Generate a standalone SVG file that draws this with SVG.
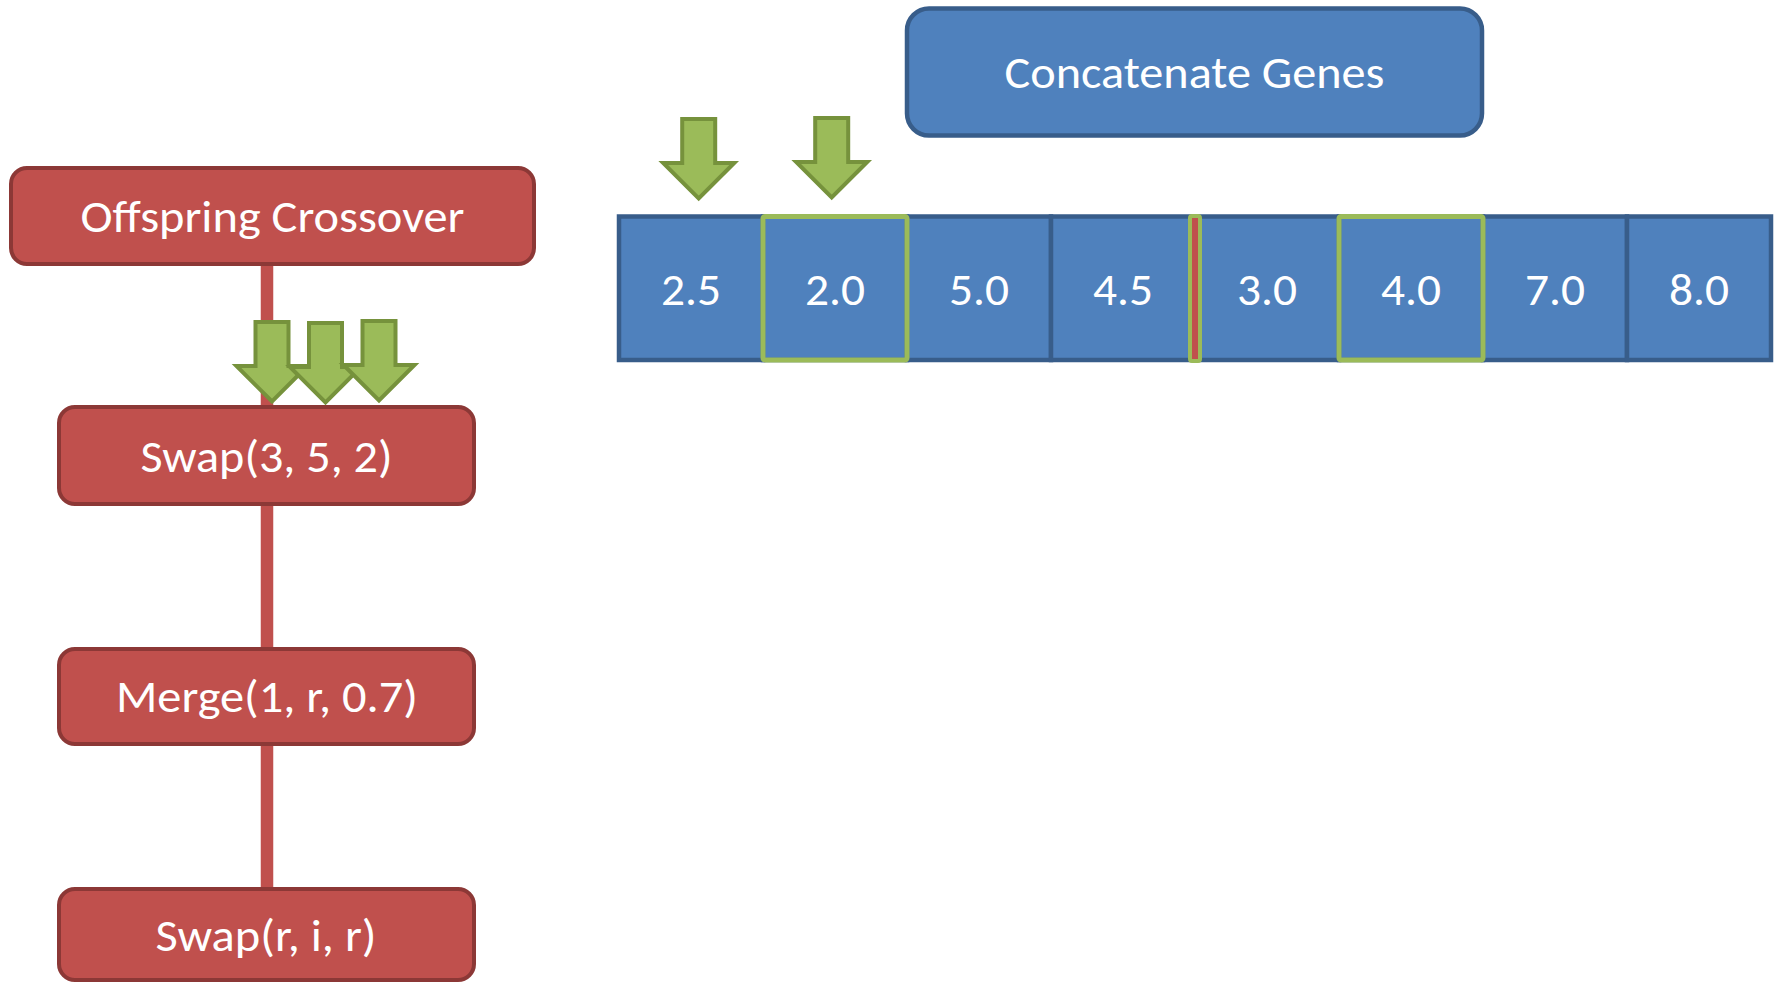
<svg xmlns="http://www.w3.org/2000/svg" xmlns:xlink="http://www.w3.org/1999/xlink" width="1775" height="983" viewBox="0 0 1775 983">
  <style>
    .op rect { fill: #C0504D; stroke: #8C3836; stroke-width: 4; }
    .blue rect { fill: #4F81BD; stroke: #385D8A; stroke-width: 4.5; }
    .cell { fill: #4F81BD; stroke: #385D8A; stroke-width: 4.5; }
    .sel { fill: none; stroke: #9BBB59; stroke-width: 5; }
    .cut { fill: #C0504D; stroke: #9BBB59; stroke-width: 4; }
    .lbl { font-family: "Carlito", "Lato", "Open Sans", sans-serif; font-size: 45px; fill: #FFFFFF; text-anchor: middle; }
    .num { font-size: 46px; }
    .link { stroke: #C0504D; stroke-width: 12.5; fill: none; }
    .ptr { fill: #9BBB59; stroke: #76923C; stroke-width: 4; stroke-linejoin: miter; }
  </style>
  <defs>
    <!-- block arrow pointing down, origin at top centre -->
    <path id="downArrow" d="M -16.5 2 L 16.5 2 L 16.5 46 L 35.5 46 L 0 81.5 L -35.5 46 L -16.5 46 Z"/>
  </defs>

  <rect width="1775" height="983" fill="#FFFFFF"/>

  <!-- vertical links between operator boxes -->
  <g id="connectors">
    <line class="link" x1="267" y1="260" x2="267" y2="410"/>
    <line class="link" x1="267" y1="502" x2="267" y2="651"/>
    <line class="link" x1="267" y1="742" x2="267" y2="891"/>
  </g>

  <!-- operator chain -->
  <g id="offspring-crossover" class="op">
    <rect x="11" y="168" width="523" height="96" rx="16"/>
    <text class="lbl" x="272.5" y="232" textLength="384" lengthAdjust="spacingAndGlyphs">Offspring Crossover</text>
  </g>
  <g id="swap-3-5-2" class="op">
    <rect x="59" y="407" width="415" height="97" rx="16"/>
    <text class="lbl" x="266.5" y="472" textLength="252" lengthAdjust="spacingAndGlyphs">Swap(3, 5, 2)</text>
  </g>
  <g id="merge-1-r-07" class="op">
    <rect x="59" y="649" width="415" height="95" rx="16"/>
    <text class="lbl" x="267" y="712" textLength="302" lengthAdjust="spacingAndGlyphs">Merge(1, r, 0.7)</text>
  </g>
  <g id="swap-r-i-r" class="op">
    <rect x="59" y="889" width="415" height="91" rx="16"/>
    <text class="lbl" x="266" y="951" textLength="221" lengthAdjust="spacingAndGlyphs">Swap(r, i, r)</text>
  </g>

  <!-- concatenation step -->
  <g id="concatenate-genes" class="blue">
    <rect x="907" y="8.5" width="575" height="127" rx="22"/>
    <text class="lbl" x="1194.5" y="88" textLength="380" lengthAdjust="spacingAndGlyphs">Concatenate Genes</text>
  </g>

  <!-- gene array -->
  <g id="genes">
    <g id="gene-1"><rect class="cell" x="619" y="216.5" width="144" height="143.5"/><text class="lbl num" x="691" y="305" textLength="60" lengthAdjust="spacingAndGlyphs">2.5</text></g>
    <g id="gene-2"><rect class="cell" x="763" y="216.5" width="144" height="143.5"/><text class="lbl num" x="835" y="305" textLength="60" lengthAdjust="spacingAndGlyphs">2.0</text></g>
    <g id="gene-3"><rect class="cell" x="907" y="216.5" width="144" height="143.5"/><text class="lbl num" x="979" y="305" textLength="60" lengthAdjust="spacingAndGlyphs">5.0</text></g>
    <g id="gene-4"><rect class="cell" x="1051" y="216.5" width="144" height="143.5"/><text class="lbl num" x="1123" y="305" textLength="60" lengthAdjust="spacingAndGlyphs">4.5</text></g>
    <g id="gene-5"><rect class="cell" x="1195" y="216.5" width="144" height="143.5"/><text class="lbl num" x="1267" y="305" textLength="60" lengthAdjust="spacingAndGlyphs">3.0</text></g>
    <g id="gene-6"><rect class="cell" x="1339" y="216.5" width="144" height="143.5"/><text class="lbl num" x="1411" y="305" textLength="60" lengthAdjust="spacingAndGlyphs">4.0</text></g>
    <g id="gene-7"><rect class="cell" x="1483" y="216.5" width="144" height="143.5"/><text class="lbl num" x="1555" y="305" textLength="60" lengthAdjust="spacingAndGlyphs">7.0</text></g>
    <g id="gene-8"><rect class="cell" x="1627" y="216.5" width="144" height="143.5"/><text class="lbl num" x="1699" y="305" textLength="60" lengthAdjust="spacingAndGlyphs">8.0</text></g>
  </g>

  <!-- highlighted genes and crossover cut -->
  <g id="selection">
    <rect class="sel" x="763" y="216.5" width="144" height="143.5" rx="2"/>
    <rect class="sel" x="1339" y="216.5" width="144" height="143.5" rx="2"/>
    <rect id="cut-point" class="cut" x="1190" y="216" width="10" height="145" rx="2"/>
  </g>

  <!-- position pointers -->
  <g id="pointers" class="ptr">
    <use xlink:href="#downArrow" transform="translate(272,320)"/>
    <use xlink:href="#downArrow" transform="translate(325.5,321)"/>
    <use xlink:href="#downArrow" transform="translate(379,319)"/>
    <use xlink:href="#downArrow" transform="translate(698.7,117)"/>
    <use xlink:href="#downArrow" transform="translate(831.7,116)"/>
  </g>
</svg>
